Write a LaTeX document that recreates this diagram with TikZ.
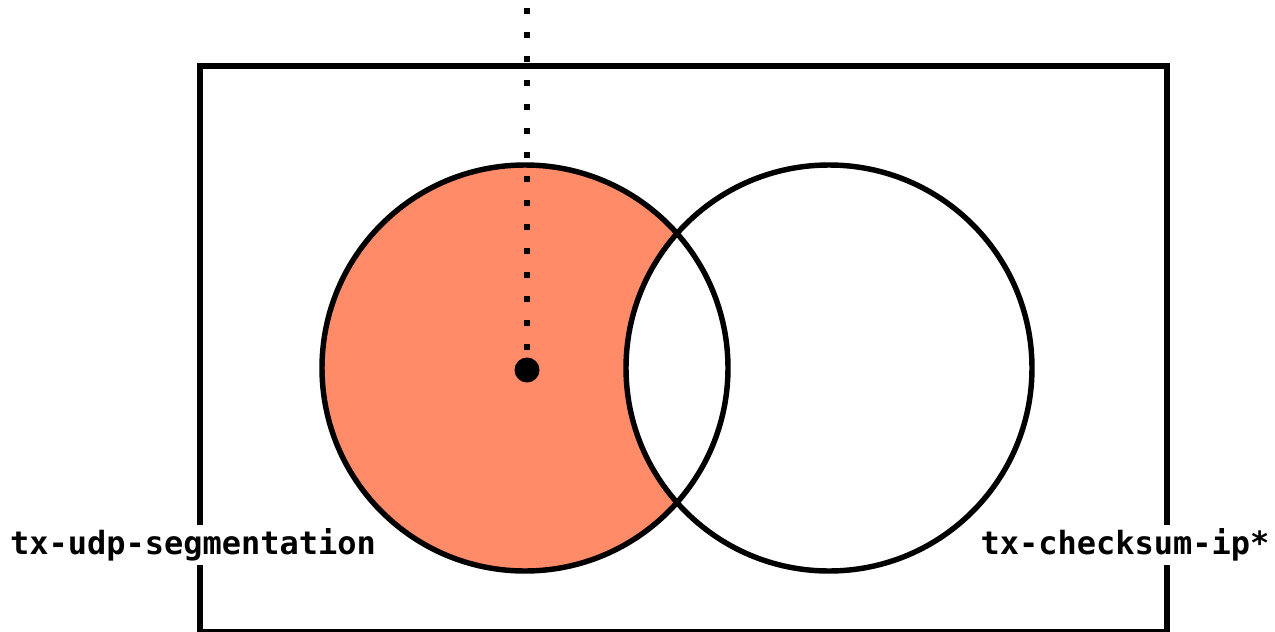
\documentclass[tikz,border=0pt]{standalone}
\usepackage{fontspec}
\usepackage{xcolor}
\usepackage{tikz}
\usetikzlibrary{calc,positioning}
\newfontfamily\vennmono{DejaVu Sans Mono}
\definecolor{vennSalmon}{RGB}{255,139,104}
\definecolor{vennInk}{RGB}{0,0,0}

\begin{document}
\begin{tikzpicture}[x=0.02cm,y=-0.02cm,
  outline/.style={vennInk, line width=3.1pt},
  setlabel/.style={fill=white, text=vennInk, inner xsep=3pt, inner ysep=0pt, minimum height=0.8cm,
    font=\vennmono\bfseries\fontsize{18.2}{20}\selectfont}]
\useasboundingbox (0,0) rectangle (1275,632);
% universe box, bottom edge runs off the page
\draw[vennInk, line width=3.3pt] (200,66) rectangle (1167,632);
\fill[vennSalmon] (525,368) circle[radius=203];
\fill[white] (829,368) circle[radius=203];
\draw[outline] (525,368) circle[radius=203];
\draw[outline] (829,368) circle[radius=203];
% point and its pointer
\coordinate (pintop) at (527,8);
\node[circle, fill=vennInk, inner sep=0pt, minimum size=0.5cm] (pin) at (527,370) {};
\draw[vennInk, line width=0.12cm, dash pattern=on 0.12cm off 0.36cm] (pintop) -- (pin.north);
\node[setlabel] (udp) at (193,545) {tx-udp-segmentation};
\node[setlabel] (csum) at (1125,545) {tx-checksum-ip*};
\end{tikzpicture}
\end{document}
